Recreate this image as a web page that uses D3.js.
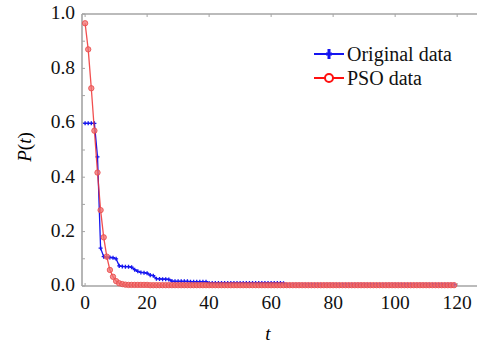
<!DOCTYPE html>
<html>
<head>
<meta charset="utf-8">
<script src="https://cdn.jsdelivr.net/npm/d3@7/dist/d3.min.js"></script>
<style>
  html, body { margin: 0; padding: 0; background: #fff; }
  svg { display: block; }
</style>
</head>
<body>
<svg id="chart" width="477" height="343" font-family="'Liberation Serif', 'DejaVu Serif', serif"></svg>
<script>
// t = 0..119
const original = [
  0.598, 0.598, 0.598, 0.598, 0.475, 0.139, 0.108, 0.106, 0.105, 0.104,
  0.100, 0.074, 0.072, 0.071, 0.071, 0.069, 0.060, 0.054, 0.050, 0.049,
  0.047, 0.040, 0.038, 0.027, 0.026, 0.025, 0.025, 0.024, 0.018, 0.017,
  0.017, 0.017, 0.017, 0.017, 0.016, 0.016, 0.016, 0.016, 0.016, 0.016,
  0.011, 0.011, 0.011, 0.011, 0.011, 0.011, 0.011, 0.011, 0.011, 0.011,
  0.011, 0.011, 0.011, 0.011, 0.011, 0.011, 0.011, 0.011, 0.011, 0.011,
  0.011, 0.011, 0.011, 0.011, 0.010, 0.005, 0.005, 0.005, 0.005, 0.005,
  0.005, 0.005, 0.005, 0.005, 0.005, 0.005, 0.005, 0.005, 0.005, 0.005,
  0.005, 0.005, 0.005, 0.005, 0.005, 0.005, 0.005, 0.005, 0.005, 0.005,
  0.005, 0.005, 0.005, 0.005, 0.005, 0.005, 0.005, 0.005, 0.005, 0.005,
  0.005, 0.005, 0.005, 0.005, 0.005, 0.005, 0.005, 0.005, 0.005, 0.005,
  0.005, 0.005, 0.005, 0.005, 0.005, 0.005, 0.005, 0.005, 0.005, 0.005
];
const pso = [
  0.966, 0.870, 0.727, 0.571, 0.417, 0.279, 0.179, 0.108, 0.059, 0.034,
  0.018, 0.010, 0.007, 0.005, 0.004, 0.004, 0.004, 0.004, 0.004, 0.004,
  0.004, 0.003, 0.003, 0.003, 0.003, 0.003, 0.003, 0.003, 0.003, 0.003,
  0.003, 0.003, 0.003, 0.003, 0.003, 0.003, 0.003, 0.003, 0.003, 0.003,
  0.003, 0.003, 0.003, 0.003, 0.003, 0.003, 0.003, 0.003, 0.003, 0.003,
  0.003, 0.003, 0.003, 0.003, 0.003, 0.003, 0.003, 0.003, 0.003, 0.003,
  0.003, 0.003, 0.003, 0.003, 0.003, 0.003, 0.003, 0.003, 0.003, 0.003,
  0.003, 0.003, 0.003, 0.003, 0.003, 0.003, 0.003, 0.003, 0.003, 0.003,
  0.003, 0.003, 0.003, 0.003, 0.003, 0.003, 0.003, 0.003, 0.003, 0.003,
  0.003, 0.003, 0.003, 0.003, 0.003, 0.003, 0.003, 0.003, 0.003, 0.003,
  0.003, 0.003, 0.003, 0.003, 0.003, 0.003, 0.003, 0.003, 0.003, 0.003,
  0.003, 0.003, 0.003, 0.003, 0.003, 0.003, 0.003, 0.003, 0.003, 0.003
];
const xTicks = [0, 20, 40, 60, 80, 100, 120];
const yTicks = [0.0, 0.2, 0.4, 0.6, 0.8, 1.0];
const yMinor = [0.1, 0.3, 0.5, 0.7, 0.9];
const seriesNames = ["Original data", "PSO data"];

const svg = d3.select("#chart");
const axisGray = "#a4a4a4";

// eixo x começa um pouco antes de 0 e passa da borda direita (recortado)
const x = d3.scaleLinear().domain([-1, 126.4]).range([82, 477]);
const y = d3.scaleLinear().domain([0, 1]).range([286, 14]);

const toPts = arr => arr.map((v, i) => ({ t: i, v }));
const dOrig = toPts(original);
const dPso = toPts(pso);

// moldura
const frame = svg.append("g").attr("stroke", axisGray).attr("stroke-width", 1.6).attr("fill", "none");
const [xa, xb] = x.range();
frame.append("line").attr("x1", xa).attr("x2", xb).attr("y1", y(1)).attr("y2", y(1));
frame.append("line").attr("x1", xa).attr("x2", xb).attr("y1", y(0)).attr("y2", y(0));
frame.append("line").attr("x1", xa).attr("x2", xa).attr("y1", y(0)).attr("y2", y(1));

// ticks para dentro
const tk = svg.append("g").attr("stroke", axisGray).attr("stroke-width", 1);
yTicks.concat(yMinor).forEach(v => {
  tk.append("line").attr("x1", xa).attr("x2", xa + 3).attr("y1", y(v)).attr("y2", y(v));
});
xTicks.forEach(v => {
  tk.append("line").attr("x1", x(v)).attr("x2", x(v)).attr("y1", y(0)).attr("y2", y(0) - 3);
  tk.append("line").attr("x1", x(v)).attr("x2", x(v)).attr("y1", y(1)).attr("y2", y(1) + 3);
});

// rótulos dos ticks
svg.append("g").selectAll("text").data(yTicks).join("text")
  .attr("x", 75).attr("y", d => y(d) - 1.5).attr("dy", "0.35em")
  .attr("text-anchor", "end").attr("font-size", 19.5).attr("fill", "#111")
  .text(d => d.toFixed(1));
svg.append("g").selectAll("text").data(xTicks).join("text")
  .attr("x", d => x(d)).attr("y", 309)
  .attr("text-anchor", "middle").attr("font-size", 19.5).attr("fill", "#111")
  .text(d => d);

// títulos
svg.append("text").attr("x", 268).attr("y", 340).attr("text-anchor", "middle")
  .attr("font-size", 19).attr("font-style", "italic").text("t");
const yl = svg.append("text").attr("transform", "translate(31,147) rotate(-90)")
  .attr("text-anchor", "middle").attr("font-size", 19);
yl.append("tspan").attr("font-style", "italic").text("P");
yl.append("tspan").text("(");
yl.append("tspan").attr("font-style", "italic").text("t");
yl.append("tspan").text(")");

const line = d3.line().x(d => x(d.t)).y(d => y(d.v));
const blue = "#1515f0", red = "#ee3030";

// Original data
svg.append("path").datum(dOrig).attr("d", line)
  .attr("fill", "none").attr("stroke", blue).attr("stroke-width", 1.3);
const plus = d3.symbol().type(d3.symbolCross).size(9);
svg.append("g").selectAll("path").data(dOrig).join("path")
  .attr("transform", d => `translate(${x(d.t)},${y(d.v)})`)
  .attr("d", plus).attr("fill", blue);

// PSO data
svg.append("path").datum(dPso).attr("d", line)
  .attr("fill", "none").attr("stroke", red).attr("stroke-width", 1.3).attr("stroke-opacity", 0.85);
svg.append("g").selectAll("circle").data(dPso).join("circle")
  .attr("cx", d => x(d.t)).attr("cy", d => y(d.v)).attr("r", 2.7)
  .attr("fill", "#f07070").attr("fill-opacity", 0.75)
  .attr("stroke", "#e84848").attr("stroke-width", 0.8);

// legenda
const lg = svg.append("g");
const legY = [54, 78];
lg.append("line").attr("x1", 314).attr("x2", 344).attr("y1", legY[0]).attr("y2", legY[0])
  .attr("stroke", blue).attr("stroke-width", 2);
lg.append("path").attr("transform", `translate(329,${legY[0]})`)
  .attr("d", "M-3,0H3M0,-5V5").attr("stroke", blue).attr("stroke-width", 3);
lg.append("line").attr("x1", 314).attr("x2", 344).attr("y1", legY[1]).attr("y2", legY[1])
  .attr("stroke", "#ff1010").attr("stroke-width", 2);
lg.append("circle").attr("cx", 329).attr("cy", legY[1]).attr("r", 4)
  .attr("fill", "#fff").attr("stroke", "#ff1010").attr("stroke-width", 2);
lg.selectAll("text").data(seriesNames).join("text")
  .attr("x", 347).attr("y", (d, i) => legY[i]).attr("dy", "0.33em")
  .attr("font-size", 20).attr("fill", "#111").text(d => d);
</script>
</body>
</html>
